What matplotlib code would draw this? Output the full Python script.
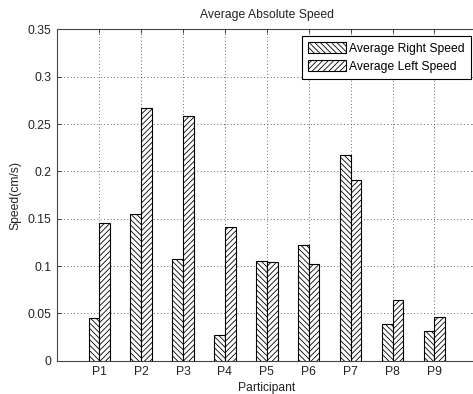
import matplotlib
matplotlib.use("Agg")
import matplotlib.pyplot as plt
import numpy as np

participants = ["P1", "P2", "P3", "P4", "P5", "P6", "P7", "P8", "P9"]
right_speed = [0.045, 0.155, 0.107, 0.027, 0.105, 0.122, 0.217, 0.039, 0.031]
left_speed = [0.145, 0.267, 0.258, 0.141, 0.104, 0.102, 0.191, 0.064, 0.046]
series_labels = ["Average Right Speed", "Average Left Speed"]
yticks = [0, 0.05, 0.1, 0.15, 0.2, 0.25, 0.3, 0.35]
ytick_labels = ["0", "0.05", "0.1", "0.15", "0.2", "0.25", "0.3", "0.35"]

plt.rcParams["font.family"] = ["Liberation Sans", "DejaVu Sans"]
plt.rcParams["hatch.linewidth"] = 0.6
plt.rcParams["hatch.color"] = "#222222"

fs = 8.7
fig = plt.figure(figsize=(4.73, 3.94), dpi=100)
ax = fig.add_axes([0.1211, 0.0845, 0.886, 0.841])

x = np.arange(1, len(participants) + 1)
w = 0.255
ax.bar(x - w / 2, right_speed, width=w, facecolor="white", edgecolor="black",
       linewidth=0.8, hatch="\\\\\\\\\\\\", label=series_labels[0], zorder=3)
ax.bar(x + w / 2, left_speed, width=w, facecolor="white", edgecolor="black",
       linewidth=0.8, hatch="//////", label=series_labels[1], zorder=3)

ax.set_xlim(0, 10)
ax.set_ylim(0, 0.35)
ax.set_xticks(x)
ax.set_xticklabels(participants)
ax.set_yticks(yticks)
ax.set_yticklabels(ytick_labels)
ax.tick_params(direction="in", length=3, width=0.6, labelsize=fs, top=True, right=True,
               colors="#222222", pad=4)
ax.grid(True, linestyle=(0, (1, 3)), color="#333333", linewidth=0.6, zorder=0)
for s in ax.spines.values():
    s.set_color("#444444")
    s.set_linewidth(0.8)

ax.set_title("Average Absolute Speed", fontsize=fs, pad=8, color="#222222")
ax.set_xlabel("Participant", fontsize=fs, labelpad=3, color="#222222")
ax.set_ylabel("Speed(cm/s)", fontsize=fs, labelpad=5, color="#222222")

leg = ax.legend(loc="upper right", bbox_to_anchor=(0.996, 0.9086),
                bbox_transform=fig.transFigure, fancybox=False, framealpha=1,
                edgecolor="black", fontsize=fs, handlelength=3.2, handleheight=1.05,
                borderpad=0.5, labelspacing=0.45, handletextpad=0.25,
                borderaxespad=0)
leg.get_frame().set_linewidth(0.8)

fig.savefig("out.png", dpi=100)
